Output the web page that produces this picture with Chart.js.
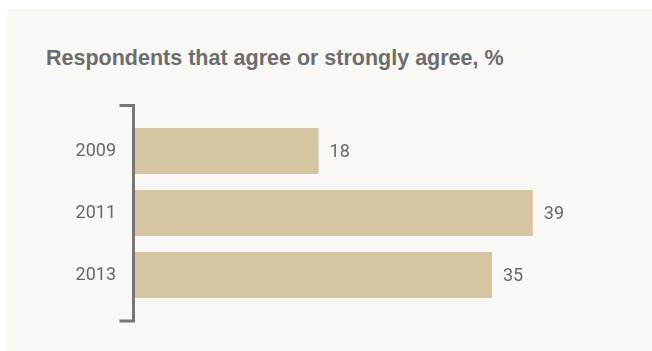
<!DOCTYPE html>
<html lang="en">
<head>
  <meta charset="UTF-8" />
  <title>Respondents that agree</title>
  <script src="https://cdn.jsdelivr.net/npm/chart.js"></script>
  <style>
    html, body {
      margin: 0;
      padding: 0;
      background: #ffffff;
      overflow: hidden;
    }

    .panel {
      position: absolute;
      left: 7px;
      top: 9px;
      right: 0;
      bottom: 0;
      background: #f9f8f5;
    }

    .title {
      position: absolute;
      left: 46px;
      top: 48px;
      margin: 0;
      font: bold 21.5px "Liberation Sans", Arial, sans-serif;
      line-height: 21px;
      color: #6d6d6d;
      white-space: nowrap;
    }

    #chartBox {
      position: absolute;
      left: 0;
      top: 0;
      width: 652px;
      height: 351px;
    }
  </style>
</head>
<body>
  <div class="panel"></div>
  <h1 class="title">Respondents that agree or strongly agree, %</h1>
  <div id="chartBox">
    <canvas id="agreeChart"></canvas>
  </div>

  <script>
    const years = ["2009", "2011", "2013"];
    const agreePct = [18, 39, 35];

    const textColor = "#686868";
    const barColor = "#d6c5a2";

    // bracket that runs along the category axis
    const bracketPlugin = {
      id: "bracket",
      afterDraw(chart) {
        const { ctx, chartArea } = chart;
        const x = chartArea.left - 1.5;
        const top = chartArea.top - 14.5;
        const bottom = chartArea.bottom + 15;
        ctx.save();
        ctx.strokeStyle = "#777777";
        ctx.lineWidth = 3;
        ctx.beginPath();
        ctx.moveTo(x - 14, top);
        ctx.lineTo(x, top);
        ctx.lineTo(x, bottom);
        ctx.lineTo(x - 14, bottom);
        ctx.stroke();
        ctx.restore();
      }
    };

    // value printed just past the end of each bar
    const valueLabels = {
      id: "valueLabels",
      afterDatasetsDraw(chart) {
        const { ctx } = chart;
        const meta = chart.getDatasetMeta(0);
        ctx.save();
        ctx.font = "18px Roboto";
        ctx.fillStyle = textColor;
        ctx.textAlign = "left";
        ctx.textBaseline = "middle";
        meta.data.forEach((bar, i) => {
          ctx.fillText(String(chart.data.datasets[0].data[i]), bar.x + 11, bar.y + 1);
        });
        ctx.restore();
      }
    };

    new Chart(document.getElementById("agreeChart"), {
      type: "bar",
      data: {
        labels: years,
        datasets: [{
          data: agreePct,
          backgroundColor: barColor,
          borderWidth: 0,
          barPercentage: 0.745,
          categoryPercentage: 1
        }]
      },
      options: {
        indexAxis: "y",
        responsive: true,
        maintainAspectRatio: false,
        animation: false,
        layout: {
          padding: { top: 120, bottom: 45, right: 58, left: 0 }
        },
        plugins: {
          legend: { display: false },
          tooltip: { enabled: false }
        },
        scales: {
          x: {
            display: false,
            min: 0,
            max: 45
          },
          y: {
            afterFit(scale) {
              scale.width = 135;
            },
            grid: { display: false, drawTicks: false },
            border: { display: false },
            ticks: {
              padding: 19,
              color: textColor,
              font: { family: "Roboto", size: 18 }
            }
          }
        }
      },
      plugins: [bracketPlugin, valueLabels]
    });
  </script>
</body>
</html>
